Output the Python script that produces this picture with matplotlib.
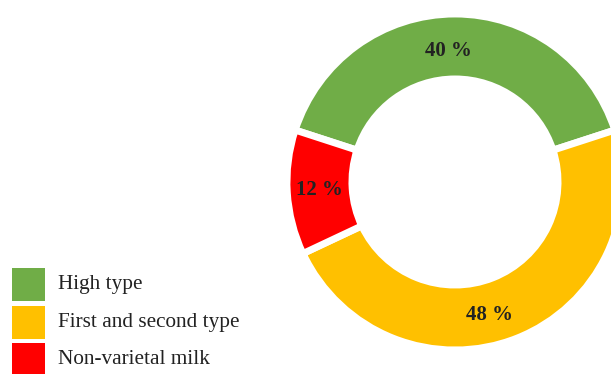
import matplotlib
matplotlib.use("Agg")
import matplotlib.pyplot as plt
from matplotlib.patches import Rectangle

categories = ["High type", "First and second type", "Non-varietal milk"]
values = [40, 48, 12]
colors = ["#70AD47", "#FFC000", "#FF0000"]

W, H = 611, 374
fig = plt.figure(figsize=(W / 100, H / 100), dpi=100)
ax = fig.add_axes([0, 0, 1, 1])

wedges, texts, autotexts = ax.pie(
    values,
    colors=colors,
    startangle=162,
    counterclock=False,
    center=(455, H - 182),
    radius=168,
    explode=[0.02, 0.02, 0.035],
    wedgeprops=dict(width=65, edgecolor="white", linewidth=5),
    autopct=lambda p: f"{p:.0f} %",
    pctdistance=0.80,
    textprops=dict(family="Liberation Serif", fontweight="bold",
                   fontsize=15, color="#222222"),
)
# small nudges of label positions to match reference placement
nudges = [(-7, -3), (-15, -8), (-1, 0)]
for t, (dx, dy) in zip(autotexts, nudges):
    x, y = t.get_position()
    t.set_position((x + dx, y + dy))

ax.set_xlim(0, W)
ax.set_ylim(0, H)
ax.set_aspect("equal")
ax.axis("off")

# legend
for i, (cat, col) in enumerate(zip(categories, colors)):
    y_top = 268 + i * 37.5
    ax.add_patch(Rectangle((12, H - y_top - 33), 33, 33, facecolor=col,
                           edgecolor="none", clip_on=False))
    ax.text(58, H - y_top - 17, cat, family="Liberation Serif",
            fontsize=15.3, color="#222222", va="center", ha="left")

fig.savefig("out.png", dpi=100)
